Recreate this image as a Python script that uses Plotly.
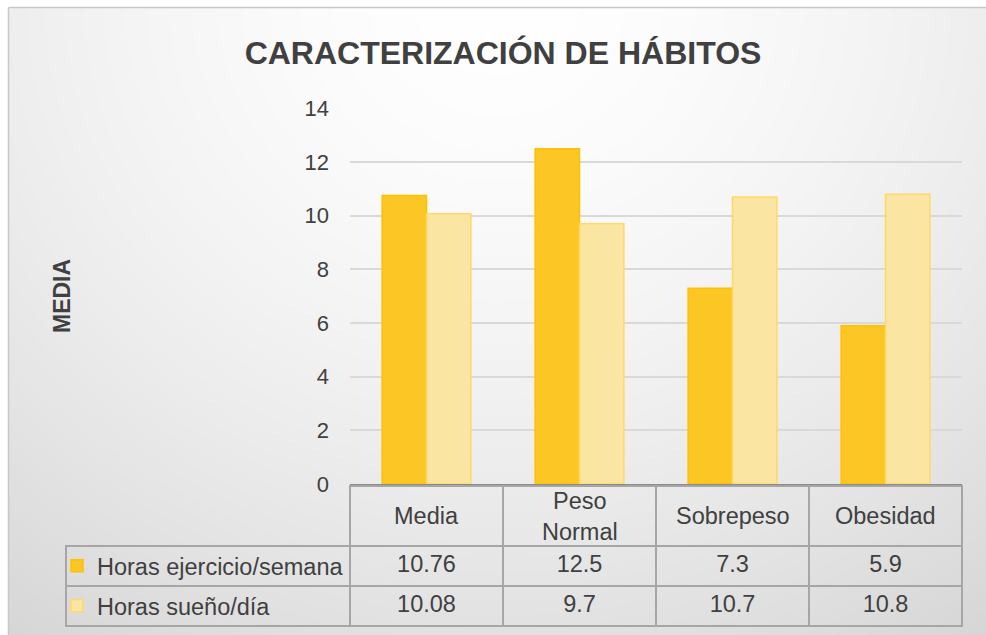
import base64
import struct
import zlib

import numpy as np
import plotly.graph_objects as go

# ---------------- data ----------------
categories = ["Media", "Peso Normal", "Sobrepeso", "Obesidad"]
header_labels = ["Media", "Peso<br>Normal", "Sobrepeso", "Obesidad"]
series_names = ["Horas ejercicio/semana", "Horas sueño/día"]
ejercicio = [10.76, 12.5, 7.3, 5.9]
sueno = [10.08, 9.7, 10.7, 10.8]
y_ticks = [0, 2, 4, 6, 8, 10, 12, 14]
title_text = "CARACTERIZACIÓN DE HÁBITOS"
y_title = "MEDIA"

W, H = 986, 635


def px_x(v):
    return v / W


def px_y(v):
    return 1 - v / H


# ---------------- background gradient (radial, from top centre) ----------------
def gradient_png(w, h):
    yy, xx = np.mgrid[0:h, 0:w].astype(float)
    cx, cy = w * 0.5, -10.0
    t = np.sqrt(((xx - cx) / (w * 0.8)) ** 2 + ((yy - cy) / (h * 1.15)) ** 2)
    t = np.clip(t, 0, 1.1) ** 1.6
    val = np.clip(255 - 36 * t, 0, 255).astype(np.uint8)
    raw = b"".join(b"\x00" + val[r].tobytes() for r in range(h))

    def chunk(tag, data):
        return (struct.pack(">I", len(data)) + tag + data
                + struct.pack(">I", zlib.crc32(tag + data) & 0xFFFFFFFF))

    png = (b"\x89PNG\r\n\x1a\n"
           + chunk(b"IHDR", struct.pack(">IIBBBBB", w, h, 8, 0, 0, 0, 0))
           + chunk(b"IDAT", zlib.compress(raw, 9))
           + chunk(b"IEND", b""))
    return "data:image/png;base64," + base64.b64encode(png).decode()


bg_w, bg_h = W - 8, H - 8
bg_src = gradient_png(bg_w, bg_h)

FONT = "Liberation Sans, Arial, sans-serif"
TXT = "#404040"
GRID = "#d9d9d9"
TBL = "#a6a6a6"
TFS = 23.5

fig = go.Figure()

fig.add_trace(go.Bar(
    x=categories, y=ejercicio, name=series_names[0],
    marker=dict(color="#FCC624", line=dict(color="#FFC000", width=1.5)),
    legend="legend", hoverinfo="skip",
))
fig.add_trace(go.Bar(
    x=categories, y=sueno, name=series_names[1],
    marker=dict(color="#FAE5A2", line=dict(color="#FFD966", width=1.5)),
    legend="legend2", hoverinfo="skip",
))

# data table under the plot
cell_values = [["", ""]] + [[str(a), str(b)] for a, b in zip(ejercicio, sueno)]
fig.add_trace(go.Table(
    domain=dict(x=[px_x(66), px_x(962)], y=[0, px_y(486)]),
    columnwidth=[284, 153, 153, 153, 153],
    header=dict(
        values=["", "", "", "", ""],
        height=60,
        fill=dict(color="rgba(0,0,0,0)"),
        line=dict(color=["rgba(0,0,0,0)"] + [TBL] * 4, width=2),
        font=dict(family=FONT, size=TFS, color=TXT),
        align="center",
    ),
    cells=dict(
        values=cell_values,
        height=40,
        fill=dict(color="rgba(0,0,0,0)"),
        line=dict(color=TBL, width=2),
        font=dict(family=FONT, size=TFS, color=TXT),
        align="center",
    ),
))

# header labels of the table, placed at the category positions
header_annotations = [
    dict(text=lab, x=cat, xref="x", y=px_y(516), yref="paper",
         xanchor="center", yanchor="middle", showarrow=False,
         font=dict(family=FONT, size=TFS, color=TXT))
    for cat, lab in zip(categories, header_labels)
]

fig.update_layout(
    width=W, height=H,
    margin=dict(l=0, r=0, t=0, b=0, autoexpand=False),
    paper_bgcolor="white",
    plot_bgcolor="rgba(0,0,0,0)",
    font=dict(family=FONT, color=TXT),
    barmode="group",
    bargap=0.42,
    bargroupgap=0,
    title=dict(
        text=f"<b>{title_text}</b>",
        x=px_x(503), xanchor="center",
        y=px_y(53), yanchor="middle",
        font=dict(family=FONT, size=32, color=TXT),
    ),
    xaxis=dict(
        domain=[px_x(350), px_x(962)],
        showticklabels=False, showgrid=False, zeroline=False,
        showline=True, linecolor="#8a8a8a", linewidth=2,
        ticks="", fixedrange=True,
    ),
    yaxis=dict(
        domain=[px_y(484), px_y(108.5)],
        range=[0, 14], tickvals=y_ticks,
        showgrid=True, gridcolor=GRID, gridwidth=2,
        zeroline=False, showline=False, ticks="",
        ticklabelstandoff=20, fixedrange=True,
        tickfont=dict(family=FONT, size=22, color=TXT),
    ),
    legend=dict(
        x=px_x(57), y=px_y(566), xanchor="left", yanchor="middle",
        bgcolor="rgba(0,0,0,0)", itemwidth=30,
        font=dict(family=FONT, size=TFS, color=TXT),
    ),
    legend2=dict(
        x=px_x(57), y=px_y(606), xanchor="left", yanchor="middle",
        bgcolor="rgba(0,0,0,0)", itemwidth=30,
        font=dict(family=FONT, size=TFS, color=TXT),
    ),
    annotations=[dict(
        text=f"<b>{y_title}</b>", textangle=-90,
        x=px_x(62), y=px_y(296), xref="paper", yref="paper",
        xanchor="center", yanchor="middle", showarrow=False,
        font=dict(family=FONT, size=23, color=TXT),
    )] + header_annotations,
    images=[dict(
        source=bg_src, xref="paper", yref="paper",
        x=px_x(8), y=px_y(8), sizex=bg_w / W, sizey=bg_h / H,
        xanchor="left", yanchor="top", sizing="stretch", layer="below",
    )],
    shapes=[
        dict(type="line", xref="paper", yref="paper",
             x0=px_x(8.5), x1=px_x(8.5), y0=0, y1=px_y(7.5),
             line=dict(color="#c8c8c8", width=1.5)),
        dict(type="line", xref="paper", yref="paper",
             x0=px_x(8.5), x1=1, y0=px_y(7.5), y1=px_y(7.5),
             line=dict(color="#c8c8c8", width=1.5)),
    ],
    showlegend=True,
)

fig.write_html(
    "out.html",
    config={"displayModeBar": False},
    post_script="document.body.style.margin='0';document.body.style.overflow='hidden';",
)
